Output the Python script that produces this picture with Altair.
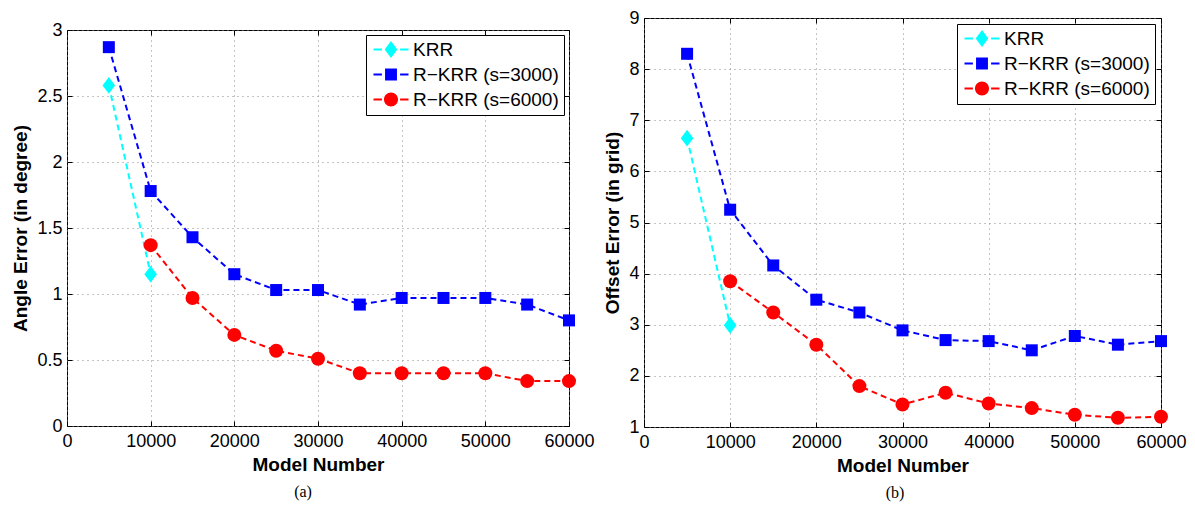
import altair as alt
import pandas as pd

# ---------------- data ----------------
models = [5000, 10000, 15000, 20000, 25000, 30000, 35000, 40000, 45000, 50000, 55000, 60000]
series_names = ["KRR", "R\u2212KRR (s=3000)", "R\u2212KRR (s=6000)"]
series_colors = ["#00FFFF", "#0000FF", "#FF0000"]

# (a) Angle error
krr_a_x = [5000, 10000]
krr_a = [2.58, 1.15]
r3000_a = [2.87, 1.78, 1.43, 1.15, 1.03, 1.03, 0.92, 0.97, 0.97, 0.97, 0.92, 0.80]
r6000_a_x = models[1:]
r6000_a = [1.37, 0.97, 0.69, 0.57, 0.51, 0.40, 0.40, 0.40, 0.40, 0.34, 0.34]

# (b) Offset error
krr_b_x = [5000, 10000]
krr_b = [6.65, 2.99]
r3000_b = [8.30, 5.25, 4.16, 3.49, 3.24, 2.89, 2.70, 2.68, 2.50, 2.78, 2.61, 2.68]
r6000_b_x = models[1:]
r6000_b = [3.85, 3.24, 2.61, 1.80, 1.44, 1.67, 1.46, 1.37, 1.24, 1.18, 1.20]

x_ticks = [0, 10000, 20000, 30000, 40000, 50000, 60000]
y_ticks_a = [0, 0.5, 1, 1.5, 2, 2.5, 3]
y_ticks_b = [1, 2, 3, 4, 5, 6, 7, 8, 9]


def make_df(krr_x, krr, r3000, r6000_x, r6000):
    rows = []
    for x, v in zip(krr_x, krr):
        rows.append({"model": x, "value": v, "series": series_names[0]})
    for x, v in zip(models, r3000):
        rows.append({"model": x, "value": v, "series": series_names[1]})
    for x, v in zip(r6000_x, r6000):
        rows.append({"model": x, "value": v, "series": series_names[2]})
    return pd.DataFrame(rows)


df_a = make_df(krr_a_x, krr_a, r3000_a, r6000_a_x, r6000_a)
df_b = make_df(krr_b_x, krr_b, r3000_b, r6000_b_x, r6000_b)

# marker shapes (unit = sqrt(size)/2 px)
diamond_path = "M0,-1.2L0.9,0L0,1.2L-0.9,0Z"


def legend_symbol(marker, s=1.5):
    # dashed line sample + marker, shifted right by s units
    f = lambda v: f"{v + s:.3f}"
    dl = f"M{f(-2.5)},-0.15H{f(-1.3)}V0.15H{f(-2.5)}Z"
    dr = f"M{f(1.3)},-0.15H{f(2.5)}V0.15H{f(1.3)}Z"
    if marker == "diamond":
        m = f"M{f(0)},-1.2L{f(0.9)},0L{f(0)},1.2L{f(-0.9)},0Z"
    elif marker == "square":
        m = f"M{f(-0.85)},-0.85H{f(0.85)}V0.85H{f(-0.85)}Z"
    else:
        m = f"M{f(1)},0A1,1,0,1,1,{f(-1)},0A1,1,0,1,1,{f(1)},0Z"
    return dl + dr + m


legend_paths = [legend_symbol("diamond"), legend_symbol("square"), legend_symbol("circle")]
point_shapes = [diamond_path, "square", "circle"]
point_sizes = [196, 144, 196]


def panel(df, ytitle, ydomain, yticks, width, height, caption, leg_offset):
    xs = alt.Scale(domain=[0, 60000], nice=False, zero=False)
    ys = alt.Scale(domain=ydomain, nice=False, zero=False)
    xaxis = alt.Axis(values=x_ticks, format="d", title="Model Number", orient="bottom",
                     offset=-5, tickSize=5, domain=False, labelPadding=6, grid=True,
                     titlePadding=5, labelFlush=False)
    yaxis = alt.Axis(values=yticks, format="~g", title=ytitle, orient="left",
                     offset=-5, tickSize=5, domain=False, labelPadding=5, grid=True,
                     titlePadding=6)
    xtop = alt.Axis(values=x_ticks, orient="top", offset=-5, tickSize=5, labels=False,
                    domain=False, grid=False, title=None)
    yright = alt.Axis(values=yticks, orient="right", offset=-5, tickSize=5, labels=False,
                      domain=False, grid=False, title=None)

    layers = []
    first = True
    for name, col, shp, sz in zip(series_names, series_colors, point_shapes, point_sizes):
        sub = alt.Chart(df).transform_filter(alt.datum.series == name)
        line = sub.mark_line(color=col, strokeDash=[6, 4], strokeWidth=2).encode(
            x=alt.X("model:Q", scale=xs, axis=xaxis if first else None),
            y=alt.Y("value:Q", scale=ys, axis=yaxis if first else None),
        )
        first = False
        pts = sub.mark_point(shape=shp, size=sz, filled=True, color=col, opacity=1).encode(
            x=alt.X("model:Q", scale=xs, axis=None),
            y=alt.Y("value:Q", scale=ys, axis=None),
        )
        layers += [line, pts]

    leg = alt.Legend(title=None, orient="top-right", offset=leg_offset,
                     labelFont="Liberation Sans", labelFontSize=19, labelColor="black",
                     strokeColor="black", fillColor="white", padding=5, rowPadding=5,
                     symbolSize=196, symbolStrokeWidth=0, labelOffset=23,
                     cornerRadius=0, symbolOpacity=1)
    legend_layer = alt.Chart(df).transform_filter("false").mark_point(
        filled=True, opacity=1, size=196).encode(
        x=alt.X("model:Q", scale=xs, axis=xtop),
        y=alt.Y("value:Q", scale=ys, axis=yright),
        fill=alt.Fill("series:N", scale=alt.Scale(domain=series_names, range=series_colors),
                      legend=leg),
        shape=alt.Shape("series:N", scale=alt.Scale(domain=series_names, range=legend_paths),
                        legend=leg),
    )
    layers.append(legend_layer)

    return alt.layer(*layers).resolve_axis(x="independent", y="independent").properties(
        width=width, height=height,
        title=alt.TitleParams(caption, orient="bottom", font="Liberation Serif", fontSize=16,
                              fontWeight="normal", frame="bounds", anchor="middle",
                              offset=10, color="black"),
    )


left = panel(df_a, "Angle Error (in degree)", [0, 3], y_ticks_a, 502, 396, "(a)", 5)
right = panel(df_b, "Offset Error (in grid)", [1, 9], y_ticks_b, 517, 409, "(b)", 6)

spacer = alt.Chart(pd.DataFrame({"s": [0]})).mark_point(opacity=0, size=1).encode(
    x=alt.value(0), y=alt.value(0)
).properties(width=10, height=1, view=alt.ViewBackground(stroke="transparent"))

left_wrapped = alt.vconcat(spacer, left, spacing=0).resolve_scale(
    fill="independent", shape="independent"
).resolve_legend(fill="independent", shape="independent")

chart = alt.hconcat(left_wrapped, right, spacing=8).resolve_scale(
    fill="independent", shape="independent"
).resolve_legend(fill="independent", shape="independent").properties(
    padding={"left": 3, "top": 0, "right": 0, "bottom": 0}
).configure_view(
    stroke="black", strokeWidth=1
).configure_axis(
    labelFont="Liberation Sans", labelFontSize=18, labelColor="black",
    titleFont="Liberation Sans", titleFontWeight="bold", titleFontSize=19, titleColor="black",
    tickColor="black", tickWidth=1, gridColor="#888888", gridDash=[1, 4], gridWidth=1,
    gridOpacity=1,
)

chart.save("out.html", embed_options={"renderer": "svg", "actions": False})
